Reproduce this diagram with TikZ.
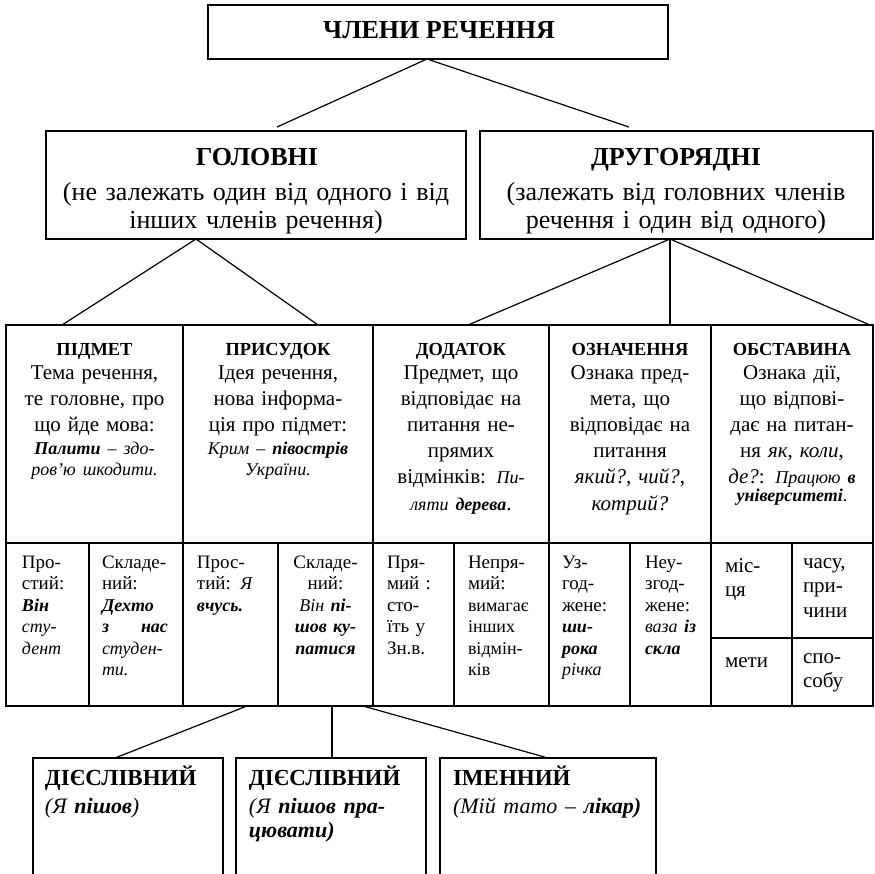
\documentclass[tikz,border=0pt]{standalone}
\usepackage{fontspec}
\setmainfont{Liberation Serif}
\usetikzlibrary{fit}
\newcommand\fs[2]{\fontsize{#1}{#2}\selectfont}
\newcommand\ex{\fs{9}{10.75}\itshape}
\newcommand\exb{\fs{9}{10.75}\bfseries\itshape}
\newcommand\hd[1]{{\fs{9.2}{12}\bfseries #1\par}\vspace{-1.1pt}}
\tikzset{
  boxst/.style={draw, line width=0.8pt, inner sep=0pt, outer sep=0pt},
  conn/.style={line width=0.6pt},
  tx/.style={inner sep=0pt, outer sep=0pt},
  hcell/.style={tx, anchor=base, align=center, font=\fs{10.5}{13.1}},
  lcell/.style={tx, anchor=base west, align=left, font=\fs{9.5}{10.75}},
  ccell/.style={tx, anchor=base, align=center, font=\fs{9.5}{10.75}},
  obst/.style={tx, anchor=base west, align=left, text width=34pt, font=\fs{10.5}{12.3}},
  bigh/.style={tx, anchor=base, font=\fs{13}{15}\bfseries},
  paren/.style={tx, anchor=base, align=center, text width=205pt, font=\fs{13}{14}},
  btxt/.style={tx, anchor=base west, align=left, text width=88pt, font=\fs{11.5}{12}},
}
\begin{document}
\begin{tikzpicture}[x=0.5pt,y=-0.5pt]
\useasboundingbox (0,0) rectangle (875,874);
\clip (0,0) rectangle (875,874);

% ---------- top levels
\node[boxst, fit={(208,5) (668,59)}] (top) {};
\node[tx, anchor=base, font=\fs{13}{15}\bfseries] (topT) at (439,38) {ЧЛЕНИ РЕЧЕННЯ};

\node[boxst, fit={(46,131) (466,239)}] (gol) {};
\node[bigh] (golH) at (257,165) {ГОЛОВНІ};
\node[paren] (golT) at (256,200) {(не залежать один від одного і від\\інших членів речення)};

\node[boxst, fit={(480,131) (873,239)}] (dru) {};
\node[bigh] (druH) at (676,165) {ДРУГОРЯДНІ};
\node[paren] (druT) at (676,200) {(залежать від головних членів\\речення і один від одного)};

% ---------- upper table row
\node[boxst, fit={(6,325) (183,543)}] (c1) {};
\node[boxst, fit={(183,325) (373,543)}] (c2) {};
\node[boxst, fit={(373,325) (549,543)}] (c3) {};
\node[boxst, fit={(549,325) (711,543)}] (c4) {};
\node[boxst, fit={(711,325) (873,543)}] (c5) {};

\node[hcell, text width=86pt] (c1T) at (94.5,355) {\hd{ПІДМЕТ}Тема речення,\\те головне, про\\що йде мова:\par\vspace{1pt}{\fs{9}{10.5}\itshape\textbf{Палити} – здо-\\ров’ю шкодити.\par}};
\node[hcell, text width=92pt] (c2T) at (278,355) {\hd{ПРИСУДОК}Ідея речення,\\нова інформа-\\ція про підмет:\par\vspace{1pt}{\fs{9}{10.5}\itshape Крим – \textbf{півострів}\\України.\par}};
\node[hcell, text width=86pt] (c3T) at (461,355) {\hd{ДОДАТОК}Предмет, що\\відповідає на\\питання не-\\прямих\\відмінків: {\fs{9}{13.1}\itshape Пи-}\\{\fs{9}{13.1}\itshape ляти \textbf{дерева}}.};
\node[hcell, text width=80pt] (c4T) at (630,355) {\hd{ОЗНАЧЕННЯ}Ознака пред-\\мета, що\\відповідає на\\питання\\\textit{який?}, \textit{чий?},\\\textit{котрий?}};
\node[hcell, text width=80pt] (c5T) at (792,355) {\hd{ОБСТАВИНА}Ознака дії,\\що відпові-\\дає на питан-\\ня \textit{як}, \textit{коли},\\\textit{де?}: {\fs{9}{13.1}\itshape Працюю \textbf{в}}\par{\fs{9}{9}\textbf{\textit{університеті}}.\par}};

% ---------- lower table row
\node[boxst, fit={(6,543) (89,706)}] (d1a) {};
\node[boxst, fit={(89,543) (183,706)}] (d1b) {};
\node[boxst, fit={(183,543) (278,706)}] (d2a) {};
\node[boxst, fit={(278,543) (373,706)}] (d2b) {};
\node[boxst, fit={(373,543) (454,706)}] (d3a) {};
\node[boxst, fit={(454,543) (549,706)}] (d3b) {};
\node[boxst, fit={(549,543) (630,706)}] (d4a) {};
\node[boxst, fit={(630,543) (711,706)}] (d4b) {};
\node[boxst, fit={(711,543) (792,638)}] (d5a) {};
\node[boxst, fit={(792,543) (873,638)}] (d5b) {};
\node[boxst, fit={(711,638) (792,706)}] (d5c) {};
\node[boxst, fit={(792,638) (873,706)}] (d5d) {};

\node[lcell, text width=32pt] (d1aT) at (22,568) {Про-\\стий:\\{\exb Він}\\{\ex сту-}\\{\ex дент}};
\node[lcell, text width=33pt] (d1bT) at (102,568) {Складе-\\ний:\\{\exb Дехто}\\\leavevmode\hbox to\linewidth{\exb з\hfill нас}\\{\ex студен-}\\{\ex ти.}};
\node[lcell, text width=40pt] (d2aT) at (197,568) {Прос-\\тий: {\ex Я}\\{\exb вчусь.}};
\node[ccell, text width=45pt] (d2bT) at (325.5,568) {Складе-\\ний:\\{\ex Він \textbf{пі-}}\\{\exb шов ку-}\\{\exb патися}};
\node[lcell, text width=32pt] (d3aT) at (387,568) {Пря-\\мий :\\сто-\\їть у\\Зн.в.};
\node[lcell, text width=38pt] (d3bT) at (468,568) {Непря-\\мий:\\{\fs{9}{10.75}вимагає}\\{\fs{9}{10.75}інших}\\{\fs{9}{10.75}відмін-}\\{\fs{9}{10.75}ків}};
\node[lcell, text width=32pt] (d4aT) at (562,568) {Уз-\\год-\\жене:\\{\exb ши-}\\{\exb рока}\\{\ex річка}};
\node[lcell, text width=32pt] (d4bT) at (645,568) {Неу-\\згод-\\жене:\\{\ex ваза \textbf{із}}\\{\exb скла}};

\node[obst] (d5aT) at (725,572) {міс-\\ця};
\node[obst] (d5bT) at (803,568) {часу,\\при-\\чини};
\node[obst] (d5cT) at (725,667) {мети};
\node[obst] (d5dT) at (803,663) {спо-\\собу};

% ---------- bottom boxes
\node[boxst, fit={(33,758) (223,900)}] (b1) {};
\node[boxst, fit={(236,758) (426,900)}] (b2) {};
\node[boxst, fit={(440,758) (656,900)}] (b3) {};
\node[btxt] (b1T) at (45,785) {\textbf{ДІЄСЛІВНИЙ}\\[2pt]{\fs{11}{12}\itshape (Я \textbf{пішов})}};
\node[btxt] (b2T) at (249,785) {\textbf{ДІЄСЛІВНИЙ}\\[2pt]{\fs{11}{12}\itshape (Я \textbf{пішов пра-}}\\{\fs{11}{12}\bfseries\itshape цювати)}};
\node[btxt, text width=100pt] (b3T) at (453,785) {\textbf{ІМЕННИЙ}\\[2pt]{\fs{11}{12}\itshape (Мій тато – \textbf{лікар)}}};

% ---------- connectors
\coordinate (topA) at (427,59);
\coordinate (golE) at (277,127);
\coordinate (druE) at (629,127);
\coordinate (golA) at (196,239);
\coordinate (pidE) at (62,325);
\coordinate (prE) at (318,325);
\coordinate (druA) at (670,239);
\coordinate (dodE) at (468,325);
\coordinate (oznE) at (670,325);
\coordinate (obsE) at (870,325);
\coordinate (prA1) at (247,706);
\coordinate (prA2) at (332,706);
\coordinate (prA3) at (363,706);
\coordinate (b1E) at (115,758);
\coordinate (b2E) at (332,758);
\coordinate (b3E) at (548,758);

\draw[conn] (topA) -- (golE);
\draw[conn] (topA) -- (druE);
\draw[conn] (golA) -- (pidE);
\draw[conn] (golA) -- (prE);
\draw[conn] (druA) -- (dodE);
\draw[conn] (druA) -- (oznE);
\draw[conn] (druA) -- (obsE);
\draw[conn] (prA1) -- (b1E);
\draw[conn] (prA2) -- (b2E);
\draw[conn] (prA3) -- (b3E);
\end{tikzpicture}
\end{document}
